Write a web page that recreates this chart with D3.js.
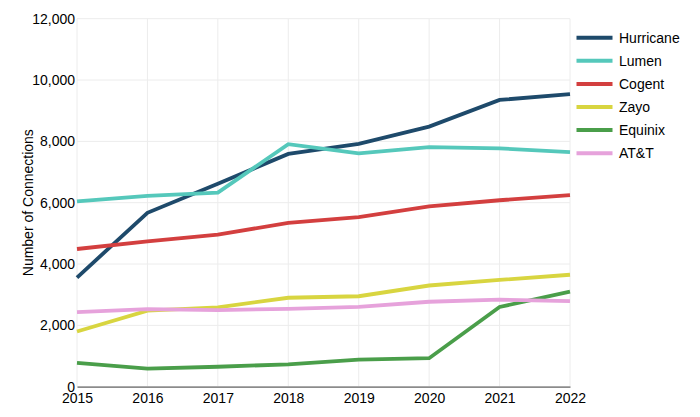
<!DOCTYPE html>
<html><head><meta charset="utf-8">
<script src="https://cdn.jsdelivr.net/npm/d3@7"></script>
<style>body{margin:0;background:#fff;font-family:"Liberation Sans",Arial,Helvetica,sans-serif;}</style>
</head><body><svg id="c" width="700" height="417"></svg>
<script>
const years = [2015, 2016, 2017, 2018, 2019, 2020, 2021, 2022];
const seriesNames = ["Hurricane", "Lumen", "Cogent", "Zayo", "Equinix", "AT&T"];
const hurricane = [3560, 5670, 6620, 7590, 7920, 8480, 9350, 9540];
const lumen = [6040, 6220, 6330, 7910, 7610, 7810, 7770, 7650];
const cogent = [4490, 4740, 4960, 5340, 5530, 5880, 6080, 6250];
const zayo = [1800, 2480, 2590, 2900, 2950, 3300, 3480, 3650];
const equinix = [780, 590, 650, 730, 880, 930, 2600, 3100];
const att = [2430, 2530, 2500, 2540, 2600, 2770, 2840, 2790];
const yTicks = [0, 2000, 4000, 6000, 8000, 10000, 12000];
const colors = ["#1e4a6b", "#55c8bb", "#d33f3f", "#d8d540", "#4a9e4a", "#e6a2db"];
const allValues = [hurricane, lumen, cogent, zayo, equinix, att];

const svg = d3.select("#c");
const m = {l: 77, r: 130, t: 18.7, b: 30.3};
const W = 700, H = 417;
const x = d3.scaleLinear().domain([2015, 2022]).range([m.l, W - m.r]);
const y = d3.scaleLinear().domain([0, 12000]).range([H - m.b, m.t]);

// grid
const g = svg.append("g");
g.selectAll("line.v").data(years).join("line")
  .attr("x1", d => x(d)).attr("x2", d => x(d))
  .attr("y1", y(12000)).attr("y2", y(0))
  .attr("stroke", "#ececec").attr("stroke-width", 1);
g.selectAll("line.h").data(yTicks).join("line")
  .attr("x1", x(2015)).attr("x2", x(2022))
  .attr("y1", d => y(d)).attr("y2", d => y(d))
  .attr("stroke", "#ececec").attr("stroke-width", 1);

// y axis
const ya = svg.append("g").attr("transform", `translate(${m.l},0)`)
  .call(d3.axisLeft(y).tickValues(yTicks).tickSize(0).tickPadding(2).tickFormat(d3.format(",")));
ya.select(".domain").remove();
ya.selectAll("text").attr("font-size", 14).attr("fill", "#000").attr("font-family", "Liberation Sans, Arial, sans-serif");

// x axis
const xa = svg.append("g").attr("transform", `translate(0,${y(0)})`)
  .call(d3.axisBottom(x).tickValues(years).tickSize(0).tickPadding(6.5).tickFormat(d3.format("d")));
xa.select(".domain").attr("stroke", "#666").attr("stroke-width", 1.2);
xa.selectAll("text").attr("font-size", 14).attr("fill", "#000").attr("font-family", "Liberation Sans, Arial, sans-serif");

// y label
svg.append("text")
  .attr("transform", `translate(33,${(y(0) + y(12000)) / 2}) rotate(-90)`)
  .attr("text-anchor", "middle").attr("font-size", 14).attr("fill", "#000")
  .text("Number of Connections");

// lines
const line = d3.line().x((d, i) => x(years[i])).y(d => y(d));
seriesNames.forEach((n, i) => {
  svg.append("path").datum(allValues[i])
    .attr("fill", "none").attr("stroke", colors[i]).attr("stroke-width", 3.8)
    .attr("stroke-linejoin", "miter").attr("d", line);
});

// legend
const lg = svg.append("g");
seriesNames.forEach((n, i) => {
  const yy = 37.7 + i * 23.1;
  lg.append("line").attr("x1", 576.5).attr("x2", 612.5).attr("y1", yy).attr("y2", yy)
    .attr("stroke", colors[i]).attr("stroke-width", 4);
  lg.append("text").attr("x", 619).attr("y", yy).attr("dy", "0.35em")
    .attr("font-size", 14).attr("fill", "#000").text(n);
});
</script></body></html>
